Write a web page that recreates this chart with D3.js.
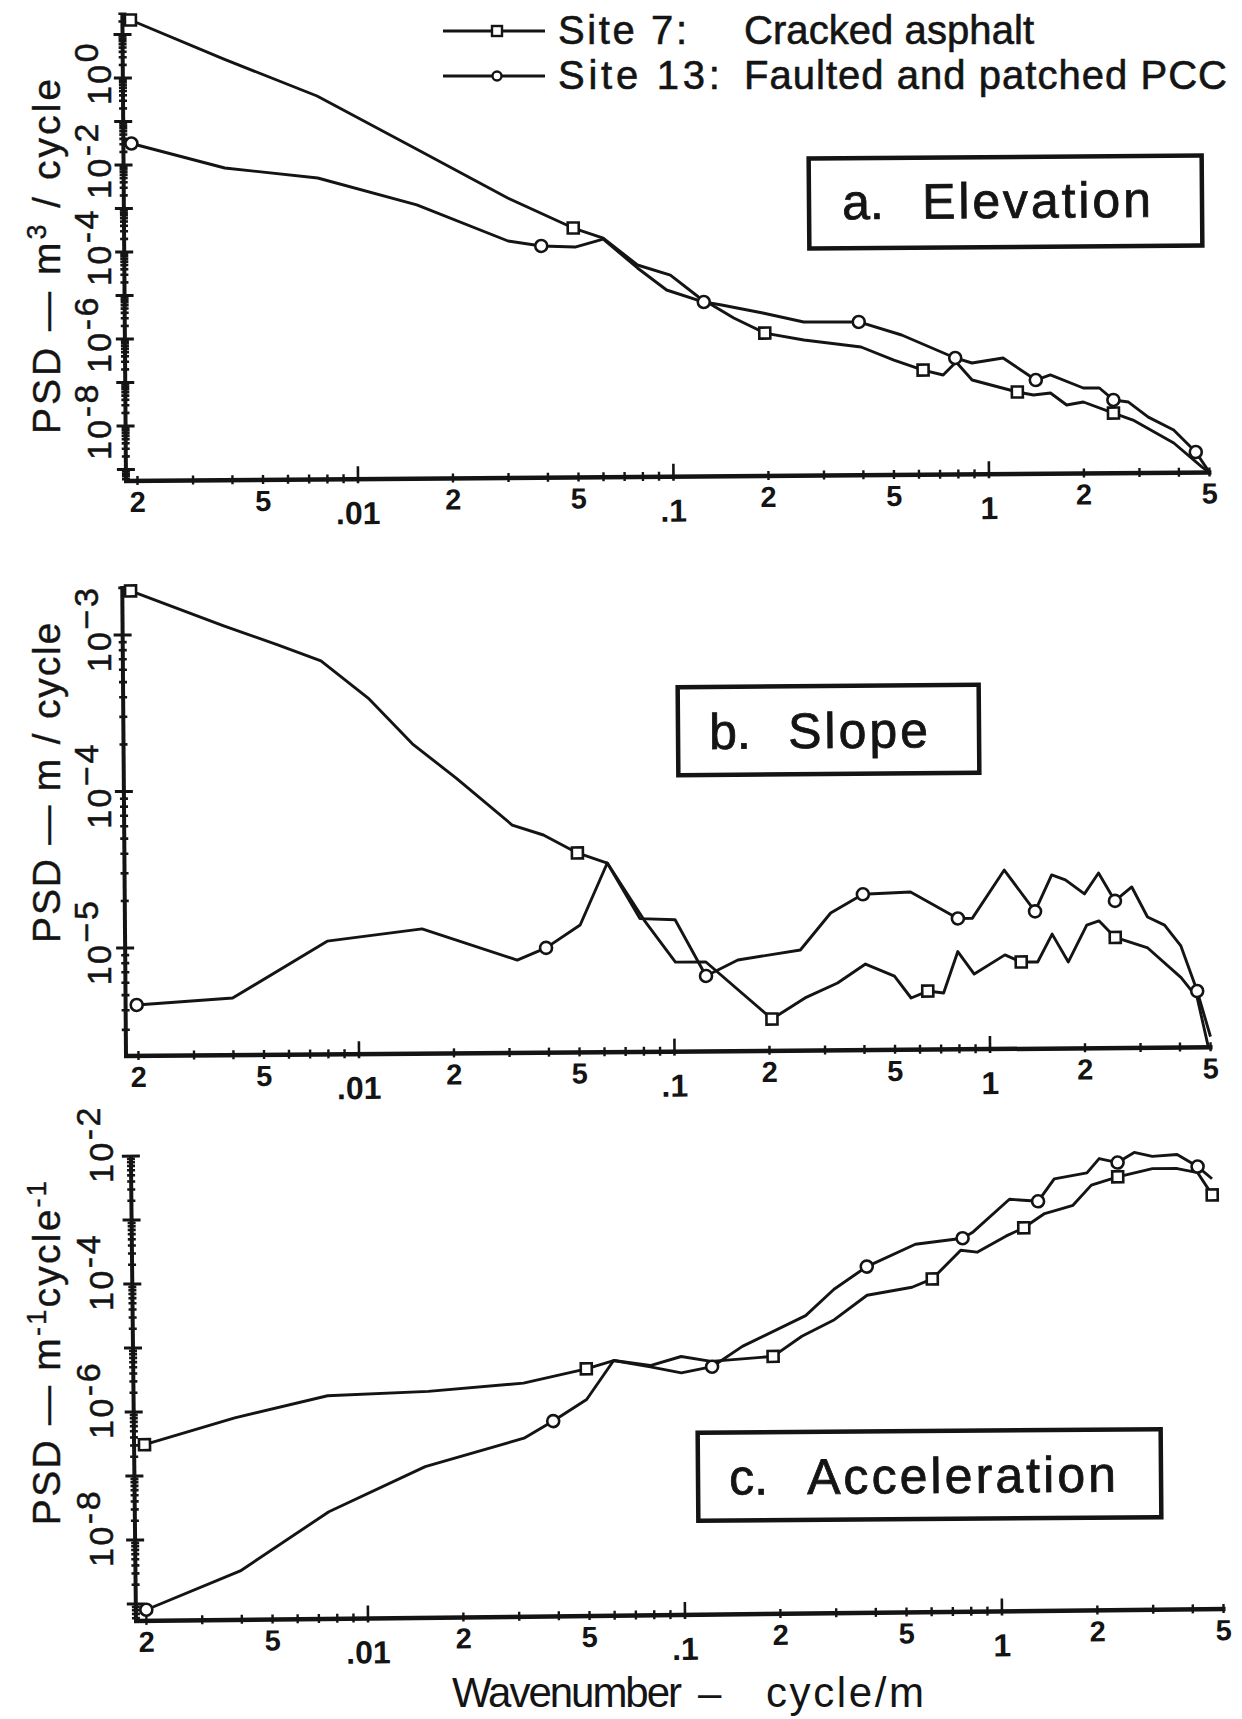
<!DOCTYPE html>
<html><head><meta charset="utf-8">
<script src="https://cdn.jsdelivr.net/npm/d3@7"></script>
<style>
body{margin:0;background:#fff}
svg{display:block}
text{font-family:"Liberation Sans",Arial,Helvetica,sans-serif;fill:#141414}
</style></head><body>
<svg id="chart" width="1242" height="1719"></svg>
<script>
// ---------------- DATA ----------------
const wavenumberTicks = [0.002,0.005,0.01,0.02,0.05,0.1,0.2,0.5,1,2,5];
const wavenumberTickLabels = ["2","5",".01","2","5",".1","2","5","1","2","5"];
const elevExponents  = ["0","-2","-4","-6","-8"];
const slopeExponents = ["\u22123","\u22124","\u22125"];
const accelExponents = ["-2","-4","-6","-8"];
const legendSites    = ["Site 7:", "Site 13:"];
const legendSurfaces = ["Cracked asphalt", "Faulted and patched PCC"];
const panelLetters   = ["a.", "b.", "c."];
const panelNames     = ["Elevation", "Slope", "Acceleration"];
const xTitleParts    = ["Wavenumber", "\u2013", "cycle/m"];

// [wavenumber (cycle/m), PSD]
const elevSite7 = [[0.00195,21.5],[0.00385,2.6],[0.00758,0.356],[0.0156,2.07e-2],[0.0303,1.49e-3],[0.0488,2.96e-4],[0.0607,1.72e-4],[0.0778,4.07e-5],[0.0989,2.36e-5],[0.1213,7.29e-6],[0.1567,2.36e-6],[0.1963,1.05e-6],[0.261,7.16e-7],[0.396,4.83e-7],[0.503,2.39e-7],[0.622,1.39e-7],[0.720,1.06e-7],[0.792,2.10e-7],[0.889,8.05e-8],[1.236,4.19e-8],[1.39,3.55e-8],[1.574,3.92e-8],[1.77,2.06e-8],[2.0,2.40e-8],[2.49,1.32e-8],[2.87,9.06e-9],[3.86,2.64e-9],[4.74,7.3e-10],[5.0,5.5e-10]];
const elevSite7Marks = [0,5,11,15,19,24];
const elevSite13 = [[0.00195,3.11e-2],[0.00385,8.18e-3],[0.00758,4.64e-3],[0.0156,1.07e-3],[0.0303,1.53e-4],[0.0386,1.16e-4],[0.0494,1.08e-4],[0.0607,1.63e-4],[0.0778,3.47e-5],[0.0961,1.07e-5],[0.126,5.58e-6],[0.1435,4.72e-6],[0.1937,3.04e-6],[0.261,1.86e-6],[0.390,1.82e-6],[0.533,8.97e-7],[0.787,2.60e-7],[0.889,1.98e-7],[1.116,2.55e-7],[1.415,7.83e-8],[1.574,1.02e-7],[2.0,5.03e-8],[2.25,5.0e-8],[2.49,2.64e-8],[2.78,2.35e-8],[3.21,1.05e-8],[3.86,5.25e-9],[4.53,1.62e-9],[5.0,5.5e-10]];
const elevSite13Marks = [0,5,10,14,16,19,23,27];

const slopeSite7 = [[0.00194,1.91e-3],[0.00382,1.13e-3],[0.00566,8.48e-4],[0.00775,6.67e-4],[0.01099,3.79e-4],[0.01503,1.95e-4],[0.02065,1.17e-4],[0.0310,5.83e-5],[0.0389,5.02e-5],[0.0498,3.84e-5],[0.0619,3.30e-5],[0.0807,1.42e-5],[0.1012,7.62e-6],[0.1264,7.60e-6],[0.204,3.26e-6],[0.260,4.43e-6],[0.330,5.50e-6],[0.405,7.24e-6],[0.500,6.04e-6],[0.564,4.37e-6],[0.637,4.83e-6],[0.715,4.69e-6],[0.795,8.61e-6],[0.895,6.17e-6],[1.121,8.15e-6],[1.262,7.33e-6],[1.423,7.31e-6],[1.584,1.10e-5],[1.78,7.29e-6],[2.04,1.25e-5],[2.23,1.33e-5],[2.51,1.04e-5],[3.18,8.87e-6],[4.05,5.71e-6],[4.55,4.23e-6],[4.92,2.05e-6]];
const slopeSite7Marks = [0,9,14,20,25,31];
const slopeSite13 = [[0.00198,4.32e-6],[0.00399,4.73e-6],[0.00798,1.08e-5],[0.01596,1.28e-5],[0.0319,8.0e-6],[0.0394,9.53e-6],[0.0506,1.33e-5],[0.0619,3.30e-5],[0.0783,1.45e-5],[0.1012,1.42e-5],[0.1264,6.19e-6],[0.1596,7.80e-6],[0.252,8.97e-6],[0.315,1.54e-5],[0.399,2.02e-5],[0.565,2.08e-5],[0.797,1.40e-5],[0.885,1.40e-5],[1.121,2.84e-5],[1.40,1.54e-5],[1.584,2.63e-5],[1.75,2.44e-5],[2.01,1.98e-5],[2.23,2.69e-5],[2.51,1.78e-5],[2.84,2.18e-5],[3.18,1.40e-5],[3.60,1.24e-5],[4.05,9.10e-6],[4.55,4.68e-6],[5.0,2.39e-6]];
const slopeSite13Marks = [0,5,10,14,16,19,24,29];

const accelSite7 = [[0.002,3.07e-7],[0.00386,7.78e-7],[0.00759,1.66e-6],[0.01578,1.87e-6],[0.0315,2.42e-6],[0.0498,3.95e-6],[0.0608,5.27e-6],[0.0793,4.34e-6],[0.0993,5.93e-6],[0.1235,4.91e-6],[0.1936,5.74e-6],[0.239,1.17e-5],[0.303,2.10e-5],[0.385,4.99e-5],[0.534,6.54e-5],[0.619,8.75e-5],[0.763,2.43e-4],[0.859,2.25e-4],[1.060,3.96e-4],[1.208,5.31e-4],[1.407,8.79e-4],[1.557,1.01e-3],[1.73,1.17e-3],[1.98,2.40e-3],[2.40,3.20e-3],[3.09,4.25e-3],[3.70,4.21e-3],[4.29,3.60e-3],[4.76,1.61e-3]];
const accelSite7Marks = [0,5,10,15,19,24,28];
const accelSite13 = [[0.002,8.1e-10],[0.00397,3.15e-9],[0.00759,2.56e-8],[0.01534,1.25e-7],[0.0315,3.34e-7],[0.039,6.11e-7],[0.0498,1.31e-6],[0.0608,5.27e-6],[0.0793,4.14e-6],[0.0993,3.29e-6],[0.1242,4.06e-6],[0.155,8.32e-6],[0.246,2.46e-5],[0.303,6.28e-5],[0.385,1.40e-4],[0.549,3.07e-4],[0.774,3.74e-4],[0.836,4.67e-4],[1.091,1.49e-3],[1.343,1.37e-3],[1.513,3.05e-3],[1.92,3.74e-3],[2.10,6.22e-3],[2.40,5.35e-3],[2.71,7.66e-3],[3.09,6.59e-3],[3.70,7.00e-3],[4.29,4.49e-3],[4.76,2.88e-3]];
const accelSite13Marks = [0,5,10,14,16,19,23,27];

// ---------------- LAYOUT ----------------
const ink = "#141414";
const P = (e) => Math.pow(10, e);
const panels = [
  { series:[elevSite7, elevSite13], marks:[elevSite7Marks, elevSite13Marks], exps:elevExponents, dec:[0,-2,-4,-6,-8],
    x0:126, y0:481, yTop:13, xEnd:1209.5, xd:[0.001839,5], yd:[P(-9.264),P(1.494)], rot:-0.447, labOff:-5, labX:111,
    title:{x:60, cy:255, len:355, parts:[["PSD \u2014 m",0],["3",1],[" / cycle",0]]},
    box:{x1:809,y1:157,x2:1202,y2:247,lx:842,nx:922,nw:229,base:218} },
  { series:[slopeSite7, slopeSite13], marks:[slopeSite7Marks, slopeSite13Marks], exps:slopeExponents, dec:[-3,-4,-5],
    x0:126, y0:1056, yTop:586, xEnd:1210.6, xd:[0.001826,5], yd:[P(-5.690),P(-2.687)], rot:-0.458, labOff:-6, labX:111,
    title:{x:60, cy:782, len:320, parts:[["PSD \u2014 m / cycle",0]]},
    box:{x1:678,y1:686,x2:979,y2:774,lx:709,nx:788,nw:140,base:748} },
  { series:[accelSite7, accelSite13], marks:[accelSite7Marks, accelSite13Marks], exps:accelExponents, dec:[-2,-4,-6,-8],
    x0:136, y0:1621, yTop:1156, xEnd:1223.6, xd:[0.001854,5], yd:[P(-9.266),P(-2)], rot:-0.63, labOff:-12, labX:113,
    title:{x:60, cy:1352, len:344, parts:[["PSD \u2014 m",0],["-1",1],["cycle",0],["-1",1]]},
    box:{x1:698,y1:1431,x2:1161,y2:1519,lx:729,nx:807,nw:309,base:1493} }
];

const svg = d3.select("#chart");
svg.append("rect").attr("width",1242).attr("height",1719).attr("fill","#fff");

function fitWidth(sel, target){
  const n = sel.text().length;
  const w = sel.node().getComputedTextLength();
  if (n > 1) sel.attr("letter-spacing", ((target - w) / (n - 1)).toFixed(2));
}
function thicken(sel, w){ return sel.attr("stroke", ink).attr("stroke-width", w).attr("paint-order","stroke"); }

panels.forEach((p, pi) => {
  const x = d3.scaleLog().domain(p.xd).range([p.x0, p.xEnd]);
  const y = d3.scaleLog().domain(p.yd).range([p.y0, p.yTop]);
  const g = svg.append("g").attr("transform", `rotate(${p.rot},${p.x0},${p.y0})`);

  // axis lines
  g.append("line").attr("x1",p.x0-2).attr("x2",p.xEnd+2).attr("y1",p.y0).attr("y2",p.y0)
    .attr("stroke",ink).attr("stroke-width",4.5);
  g.append("line").attr("x1",p.x0).attr("x2",p.x0).attr("y1",p.y0+2).attr("y2",p.yTop)
    .attr("stroke",ink).attr("stroke-width",4);

  // x ticks (minor + decade)
  const xt = [];
  for (let d = -3; d <= 0; d++) for (let k = 1; k <= 9; k++) {
    const v = +(k * Math.pow(10, d)).toPrecision(3);
    if (v >= p.xd[0] && v <= p.xd[1] * 1.0001) xt.push({v, major: k === 1});
  }
  g.selectAll(null).data(xt).join("line")
    .attr("x1", d => x(d.v)).attr("x2", d => x(d.v))
    .attr("y1", d => d.major ? p.y0 - 13 : p.y0 - 5).attr("y2", d => p.y0 + 4)
    .attr("stroke", ink).attr("stroke-width", d => d.major ? 2.6 : 2.4);

  // x tick labels
  g.selectAll(null).data(wavenumberTicks).join("text")
    .attr("x", d => x(d))
    .attr("y", (d,i) => wavenumberTickLabels[i].includes("1") ? p.y0 + 45 : p.y0 + 31)
    .attr("text-anchor","middle").attr("font-size", (d,i) => wavenumberTickLabels[i].includes("1") ? 32 : 29)
    .attr("font-weight","bold")
    .text((d,i) => wavenumberTickLabels[i]);

  // y ticks
  const lo = Math.floor(Math.log10(p.yd[0])), hi = Math.ceil(Math.log10(p.yd[1]));
  const yt = [];
  for (let d = lo; d <= hi; d++) for (let k = 1; k <= 9; k++) {
    const v = k * Math.pow(10, d);
    if (v >= p.yd[0] && v <= p.yd[1]) yt.push({v, major: k === 1});
  }
  g.selectAll(null).data(yt).join("line")
    .attr("x1", d => p.x0 - (d.major ? 9 : 4)).attr("x2", d => p.x0 + (d.major ? 9 : 4))
    .attr("y1", d => y(d.v)).attr("y2", d => y(d.v))
    .attr("stroke", ink).attr("stroke-width", d => d.major ? 3 : 2.6);

  // curves
  const line = d3.line().x(d => x(d[0])).y(d => y(d[1]));
  p.series.forEach(s => {
    g.append("path").datum(s).attr("d", line).attr("fill","none")
      .attr("stroke", ink).attr("stroke-width", 2.9).attr("stroke-linejoin","round");
  });
  // markers
  p.series.forEach((s, si) => {
    const pts = p.marks[si].map(i => s[i]);
    if (si === 0) {
      g.selectAll(null).data(pts).join("rect")
        .attr("x", d => x(d[0]) - 5.5).attr("y", d => y(d[1]) - 5.5)
        .attr("width", 11).attr("height", 11)
        .attr("fill","#fff").attr("stroke",ink).attr("stroke-width",2.6);
    } else {
      g.selectAll(null).data(pts).join("circle")
        .attr("cx", d => x(d[0])).attr("cy", d => y(d[1])).attr("r", 6)
        .attr("fill","#fff").attr("stroke",ink).attr("stroke-width",2.6);
    }
  });

  // y tick labels (rotated, "10" with raised exponent)
  p.dec.forEach((e, i) => {
    const ty = y(Math.pow(10, e)) + p.labOff;
    const t = svg.append("text")
      .attr("transform", `translate(${p.labX},${ty}) rotate(-90)`)
      .attr("text-anchor","middle").attr("font-size", 34).attr("letter-spacing", 2.5);
    t.append("tspan").text("10");
    t.append("tspan").attr("dy", -13).text(p.exps[i]);
    thicken(t, 0.5);
  });

  // y title
  const tt = svg.append("text")
    .attr("transform", `translate(${p.title.x},${p.title.cy}) rotate(-90)`)
    .attr("text-anchor","middle").attr("font-size", 39);
  p.title.parts.forEach(([s, sup], j) => {
    const ts = tt.append("tspan").text(s);
    if (sup) ts.attr("font-size", 27).attr("dy", -14);
    else if (j > 0) ts.attr("dy", 14);
  });
  fitWidth(tt, p.title.len);
  thicken(tt, 0.4);

  // panel title box
  const b = p.box;
  const bg = svg.append("g").attr("transform", `rotate(-0.45,${(b.x1+b.x2)/2},${(b.y1+b.y2)/2})`);
  bg.append("rect").attr("x", b.x1).attr("y", b.y1).attr("width", b.x2 - b.x1).attr("height", b.y2 - b.y1)
    .attr("fill","none").attr("stroke",ink).attr("stroke-width",4.5);
  thicken(bg.append("text").attr("x", b.lx).attr("y", b.base).attr("font-size", 50).text(panelLetters[pi]), 0.8);
  const nt = bg.append("text").attr("x", b.nx).attr("y", b.base).attr("font-size", 50).text(panelNames[pi]);
  fitWidth(nt, b.nw);
  thicken(nt, 0.8);
});

// legend
const legY = [31, 76], legBase = [44, 89];
legendSites.forEach((s, i) => {
  svg.append("line").attr("x1",443).attr("x2",545).attr("y1",legY[i]).attr("y2",legY[i])
    .attr("stroke",ink).attr("stroke-width",3);
  if (i === 0) svg.append("rect").attr("x",492).attr("y",legY[i]-5).attr("width",10).attr("height",10)
    .attr("fill","#fff").attr("stroke",ink).attr("stroke-width",2.4);
  else svg.append("circle").attr("cx",497).attr("cy",legY[i]).attr("r",4.5)
    .attr("fill","#fff").attr("stroke",ink).attr("stroke-width",2.4);
  const a = svg.append("text").attr("x",558).attr("y",legBase[i]).attr("font-size",40).text(s);
  fitWidth(a, i === 0 ? 129 : 162);
  thicken(a, 0.6);
  const c = svg.append("text").attr("x",744).attr("y",legBase[i]).attr("font-size",40).text(legendSurfaces[i]);
  fitWidth(c, i === 0 ? 290 : 483);
  thicken(c, 0.6);
});

// x-axis title
const xtPos = [[452, 230], [698, 37], [766, 158]];
xTitleParts.forEach((s, i) => {
  const t = svg.append("text").attr("x", xtPos[i][0]).attr("y", 1707).attr("font-size", 42).text(s);
  if (s.length > 1) fitWidth(t, xtPos[i][1]);
});
</script>
</body></html>
